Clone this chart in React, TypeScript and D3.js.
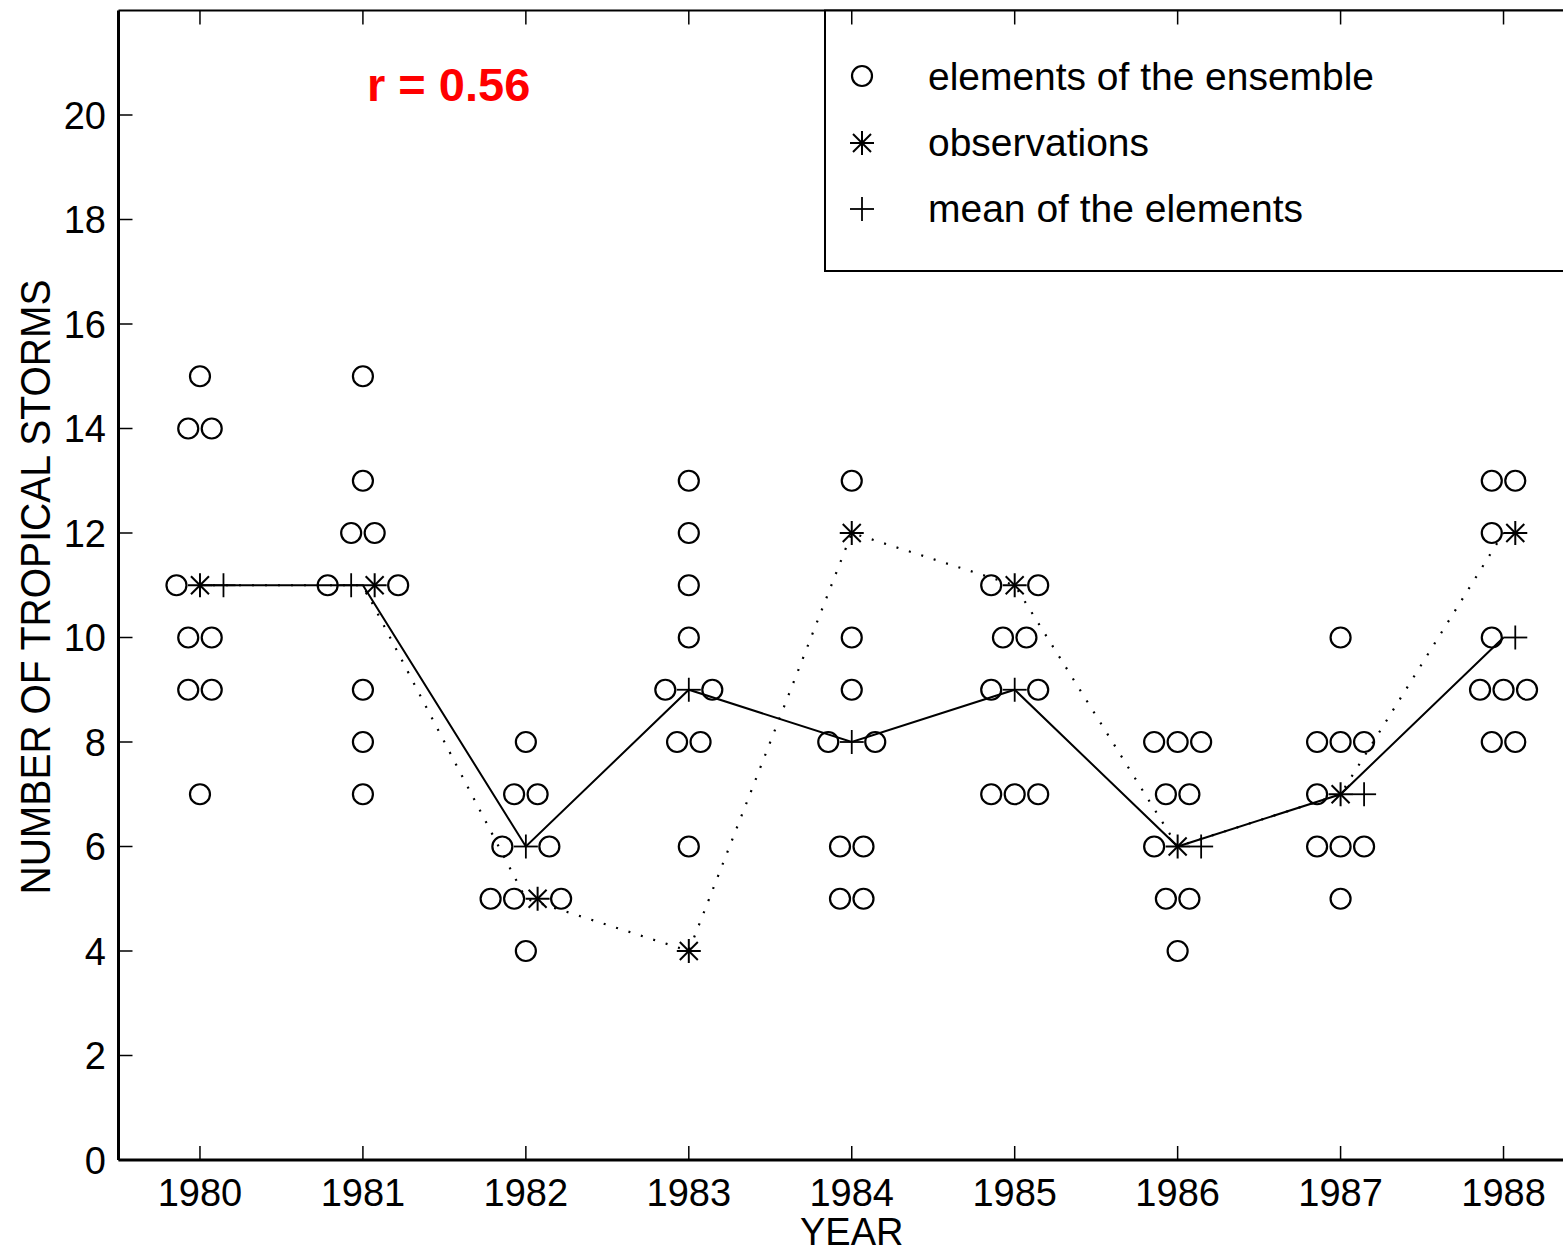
import React from "react";
import * as d3 from "d3";

// storm counts per season
const years = [1980, 1981, 1982, 1983, 1984, 1985, 1986, 1987, 1988];
const observed = [11, 11, 5, 4, 12, 11, 6, 7, 12];
const ensembleMean = [11, 11, 6, 9, 8, 9, 6, 7, 10];
const ensemble = [
  [15, 14, 14, 11, 10, 10, 9, 9, 7],
  [15, 13, 12, 12, 11, 11, 9, 8, 7],
  [8, 7, 7, 6, 6, 5, 5, 5, 4],
  [13, 12, 11, 10, 9, 9, 8, 8, 6],
  [13, 10, 9, 8, 8, 6, 6, 5, 5],
  [11, 11, 10, 10, 9, 9, 7, 7, 7],
  [8, 8, 8, 7, 7, 6, 5, 5, 4],
  [10, 8, 8, 8, 7, 6, 6, 6, 5],
  [13, 13, 12, 10, 9, 9, 9, 8, 8],
];
const yTicks = [0, 2, 4, 6, 8, 10, 12, 14, 16, 18, 20];
const legendLabels = ["elements of the ensemble", "observations", "mean of the elements"];
const legendWidths = [446, 221, 375];

const W = 1563;
const H = 1254;
const FONT = "'Liberation Sans', Arial, Helvetica, sans-serif";

const x = d3.scaleLinear().domain([1979.5, 1988.5]).range([118.5, 1585]);
const y = d3.scaleLinear().domain([0, 22]).range([1160, 10.5]);

const SLOT = 23.5;

type Mark = { kind: "o" | "*" | "+"; cx: number; cy: number };

function Circle({ cx, cy }: { cx: number; cy: number }) {
  return <circle cx={cx} cy={cy} r={10} fill="none" stroke="#000" strokeWidth={2.2} />;
}

function Star({ cx, cy }: { cx: number; cy: number }) {
  const s = 12;
  const d = s * 0.75;
  return (
    <g stroke="#000" strokeWidth={2}>
      <line x1={cx - s} y1={cy} x2={cx + s} y2={cy} />
      <line x1={cx} y1={cy - s} x2={cx} y2={cy + s} />
      <line x1={cx - d} y1={cy - d} x2={cx + d} y2={cy + d} />
      <line x1={cx - d} y1={cy + d} x2={cx + d} y2={cy - d} />
    </g>
  );
}

function Plus({ cx, cy }: { cx: number; cy: number }) {
  const s = 12;
  return (
    <g stroke="#000" strokeWidth={1.8}>
      <line x1={cx - s} y1={cy} x2={cx + s} y2={cy} />
      <line x1={cx} y1={cy - s} x2={cx} y2={cy + s} />
    </g>
  );
}

function buildMarks(): Mark[] {
  const marks: Mark[] = [];
  years.forEach((yr, i) => {
    const vals = ensemble[i];
    const exactMean = d3.mean(vals) as number;
    const levels = Array.from(new Set([...vals, observed[i], ensembleMean[i]]));
    levels.forEach((v) => {
      const n = vals.filter((e) => e === v).length;
      const extra: ("*" | "+")[] = [];
      if (observed[i] === v) extra.push("*");
      if (ensembleMean[i] === v) {
        if (exactMean < observed[i]) extra.unshift("+");
        else extra.push("+");
      }
      const left = Math.ceil(n / 2);
      const row: ("o" | "*" | "+")[] = [
        ...Array(left).fill("o"),
        ...extra,
        ...Array(n - left).fill("o"),
      ];
      const k = row.length;
      row.forEach((kind, j) => {
        marks.push({ kind, cx: x(yr) + (j - (k - 1) / 2) * SLOT, cy: y(v) });
      });
    });
  });
  return marks;
}

export default function App() {
  const marks = buildMarks();
  const meanLine = d3
    .line<number>()
    .x((_, i) => x(years[i]))
    .y((d) => y(d))(ensembleMean) as string;
  const obsLine = d3
    .line<number>()
    .x((_, i) => x(years[i]))
    .y((d) => y(d))(observed) as string;

  const x0 = x.range()[0];
  const y0 = y.range()[0];
  const yTop = y.range()[1];

  return (
    <svg
      width={W}
      height={H}
      style={{ position: "absolute", left: 0, top: 0, display: "block", background: "#fff" }}
      fontFamily={FONT}
    >
      <rect width={W} height={H} fill="#fff" />

      {/* frame */}
      <line x1={x0} y1={yTop} x2={W} y2={yTop} stroke="#000" strokeWidth={2} />
      <line x1={x0} y1={yTop} x2={x0} y2={y0} stroke="#000" strokeWidth={3} />
      <line x1={x0} y1={y0} x2={W} y2={y0} stroke="#000" strokeWidth={3} />

      {/* y ticks */}
      {yTicks.map((t) => (
        <g key={"y" + t}>
          <line x1={x0} y1={y(t)} x2={x0 + 14} y2={y(t)} stroke="#000" strokeWidth={1.5} />
          <text x={106} y={y(t) + 13.5} fontSize={38} textAnchor="end" fill="#000">
            {t}
          </text>
        </g>
      ))}

      {/* x ticks */}
      {years.map((yr) => (
        <g key={"x" + yr}>
          <line x1={x(yr)} y1={y0} x2={x(yr)} y2={y0 - 14} stroke="#000" strokeWidth={1.5} />
          <line x1={x(yr)} y1={yTop} x2={x(yr)} y2={yTop + 14} stroke="#000" strokeWidth={1.5} />
          <text x={x(yr)} y={1206} fontSize={38} textAnchor="middle" fill="#000">
            {yr}
          </text>
        </g>
      ))}

      {/* axis titles */}
      <text x={x(1984)} y={1245} fontSize={38} textAnchor="middle" fill="#000">
        YEAR
      </text>
      <text
        transform="translate(50,587) rotate(-90)"
        fontSize={42}
        textAnchor="middle"
        textLength={615}
        lengthAdjust="spacingAndGlyphs"
        fill="#000"
      >
        NUMBER OF TROPICAL STORMS
      </text>

      {/* lines */}
      <path d={obsLine} fill="none" stroke="#000" strokeWidth={2.2} strokeDasharray="2 11" />
      <path d={meanLine} fill="none" stroke="#000" strokeWidth={2} />

      {/* markers */}
      {marks.map((m, i) =>
        m.kind === "o" ? (
          <Circle key={i} cx={m.cx} cy={m.cy} />
        ) : m.kind === "*" ? (
          <Star key={i} cx={m.cx} cy={m.cy} />
        ) : (
          <Plus key={i} cx={m.cx} cy={m.cy} />
        )
      )}

      {/* correlation */}
      <text x={367} y={101} fontSize={47} fontWeight="bold" fill="#ff0000">
        r = 0.56
      </text>

      {/* legend */}
      <rect x={825} y={yTop} width={W} height={271 - yTop} fill="#fff" stroke="#000" strokeWidth={2} />
      {years.slice(4).map((yr) => (
        <line key={"lt" + yr} x1={x(yr)} y1={yTop} x2={x(yr)} y2={yTop + 14} stroke="#000" strokeWidth={1.5} />
      ))}
      <Circle cx={862} cy={76} />
      <Star cx={862} cy={143} />
      <Plus cx={862} cy={209} />
      {legendLabels.map((label, i) => (
        <text
          key={label}
          x={928}
          y={90 + i * 66}
          fontSize={38}
          textLength={legendWidths[i]}
          lengthAdjust="spacingAndGlyphs"
          fill="#000"
        >
          {label}
        </text>
      ))}
    </svg>
  );
}
